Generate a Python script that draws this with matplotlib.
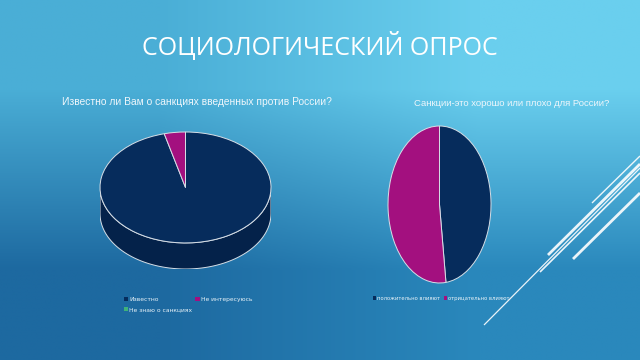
import numpy as np
import matplotlib
matplotlib.use("Agg")
import matplotlib.pyplot as plt
from matplotlib.patches import Polygon, Patch
from matplotlib.lines import Line2D

# ---- data ----
title = "СОЦИОЛОГИЧЕСКИЙ ОПРОС"
q1_title = "Известно ли Вам о санкциях введенных против России?"
q1_labels = ["Известно", "Не интересуюсь", "Не знаю о санкциях"]
q1_values = [96, 4, 0]
q2_title = "Санкции-это хорошо или плохо для России?"
q2_labels = ["положительно влияют", "отрицательно влияют"]
q2_values = [48, 52]

navy = "#062c5c"
navy_side = "#04224a"
magenta = "#a3107f"
magenta_side = "#7a0b5f"
green = "#3fb27a"
edge = "#d6dee6"

fig = plt.figure(figsize=(6.4, 3.6), dpi=100)

# background gradient
bg = fig.add_axes([0, 0, 1, 1])
tl, tr = np.array([0x4a, 0xae, 0xd6]) / 255, np.array([0x6a, 0xcf, 0xee]) / 255
bl, br = np.array([0x1d, 0x69, 0xa0]) / 255, np.array([0x2a, 0x88, 0xbc]) / 255
img = np.array([[tl, tr], [bl, br]])
bg.imshow(img, interpolation="bilinear", extent=[0, 1, 0, 1], aspect="auto")
bg.set_xlim(0, 1); bg.set_ylim(0, 1); bg.axis("off")

# decorative lines (pixel coords -> figure coords)
def dl(x0, y0, x1, y1, lw):
    bg.add_line(Line2D([x0 / 640, x1 / 640], [1 - y0 / 360, 1 - y1 / 360],
                       color="white", lw=lw, alpha=0.9, solid_capstyle="butt"))
dl(592, 203, 640, 156, 1.0)
dl(548, 255, 640, 164, 2.0)
dl(540, 272, 640, 173, 1.2)
dl(573, 259, 640, 193, 2.0)
dl(484, 325, 640, 168, 0.9)

fig.text(0.5, 1 - 46 / 360, title, ha="center", va="center", color="white",
         fontsize=18, family="Open Sans")

sub_font = ["Liberation Sans", "DejaVu Sans"]
fig.text(62 / 640, 1 - 102 / 360, q1_title, ha="left", va="center", color="#eef6fb",
         fontsize=7.4, family=sub_font)
fig.text(414 / 640, 1 - 104 / 360, q2_title, ha="left", va="center", color="#eef6fb",
         fontsize=6.8, family=sub_font)

# ---- left 3D pie ----
depth = 0.47
ax1 = fig.add_axes([100 / 640, (360 - 269) / 360, 171 / 640, 137 / 360])
cols1 = [navy, magenta, green]
sides1 = [navy_side, magenta_side, green]
wedges1, _ = ax1.pie(q1_values, colors=cols1, startangle=90, counterclock=False,
                     wedgeprops=dict(edgecolor=edge, linewidth=0.7), radius=1)
for w in wedges1:
    w.set_zorder(3)
# side walls
for w, sc in zip(wedges1, sides1):
    a1, a2 = sorted([w.theta1, w.theta2])
    if a2 - a1 <= 0:
        continue
    for off in (-360, 0, 360):
        lo, hi = max(a1 + off, 180), min(a2 + off, 360)
        if hi > lo:
            t = np.radians(np.linspace(lo, hi, 100))
            xs, ys = np.cos(t), np.sin(t)
            pts = np.concatenate([np.c_[xs, ys], np.c_[xs[::-1], ys[::-1] - depth]])
            ax1.add_patch(Polygon(pts, closed=True, facecolor=sc, edgecolor=edge,
                                  linewidth=0.7, zorder=2))
ax1.set_aspect("auto")
ax1.set_xlim(-1.0, 1.0)
ax1.set_ylim(-1 - depth, 1.0)
ax1.axis("off")

# ---- right pie ----
ax2 = fig.add_axes([388 / 640, (360 - 283) / 360, 103 / 640, 157 / 360])
wedges2, _ = ax2.pie(q2_values, colors=[navy, magenta], startangle=90, counterclock=False,
                     wedgeprops=dict(edgecolor=edge, linewidth=0.7), radius=1)
ax2.set_aspect("auto")
ax2.set_xlim(-1.0, 1.0)
ax2.set_ylim(-1.0, 1.0)
ax2.axis("off")

# ---- legends ----
h1 = [Patch(facecolor=c, edgecolor="none") for c in cols1]
order = [0, 2, 1]
fig.legend([h1[i] for i in order], [q1_labels[i] for i in order], ncol=2,
           loc="upper left", bbox_to_anchor=(121 / 640, 1 - 294 / 360),
           frameon=False, fontsize=4.3, labelcolor="#e8f2f8",
           handlelength=0.7, handleheight=0.7, handletextpad=0.2,
           columnspacing=0.5, labelspacing=0.85, borderpad=0)
h2 = [Patch(facecolor=c, edgecolor="none") for c in [navy, magenta]]
fig.legend(h2, q2_labels, ncol=2, loc="upper left",
           bbox_to_anchor=(370 / 640, 1 - 293 / 360),
           frameon=False, fontsize=3.8, labelcolor="#e8f2f8",
           handlelength=0.7, handleheight=0.7, handletextpad=0.2,
           columnspacing=0.6, borderpad=0)

fig.savefig("out.png", dpi=100)
